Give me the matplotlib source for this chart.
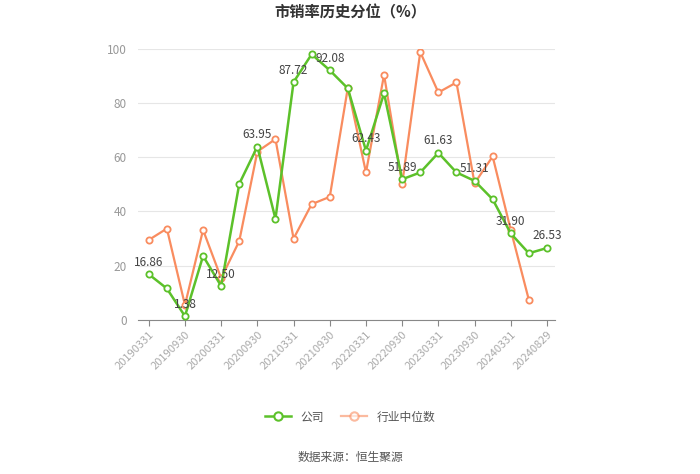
import numpy as np
import matplotlib
matplotlib.use("Agg")
import matplotlib.pyplot as plt
from matplotlib.lines import Line2D

plt.rcParams['font.family'] = ['Noto Sans CJK SC', 'DejaVu Sans']

# 数据
dates = ["20190331", "20190630", "20190930", "20191231", "20200331", "20200630",
         "20200930", "20201231", "20210331", "20210630", "20210930", "20211231",
         "20220331", "20220630", "20220930", "20221231", "20230331", "20230630",
         "20230930", "20231231", "20240331", "20240630", "20240829"]
company = [16.86, 11.6, 1.38, 23.6, 12.50, 50.2, 63.95, 37.3, 87.72, 98.0, 92.08, 85.4,
           62.43, 83.6, 51.89, 54.4, 61.63, 54.4, 51.31, 44.5, 31.90, 24.6, 26.53]
industry = [29.5, 33.7, 5.5, 33.2, 15.4, 29.1, 62.1, 66.7, 30.0, 42.7, 45.4, 85.7,
            54.4, 90.4, 50.2, 98.8, 83.9, 87.6, 50.4, 60.3, 33.2, 7.4]
tick_idx = list(range(0, len(dates), 2))

green = '#5cc12a'
orange = '#f98c5f'

fig = plt.figure(figsize=(7, 4.74), dpi=100)
ax = fig.add_axes([0.197, 0.325, 0.596, 0.572])

x_c = np.arange(len(company))
x_i = np.arange(len(industry))
ax.plot(x_i, industry, color=orange, lw=1.6, marker='o', ms=4.5,
        mfc='white', mec=orange, mew=1.3, zorder=3)
ax.plot(x_c, company, color=green, lw=1.8, marker='o', ms=4.5,
        mfc='white', mec=green, mew=1.3, zorder=4)

# 数据标签
for i in tick_idx:
    ax.annotate(f"{company[i]:.2f}", (i, company[i]), xytext=(0, 4),
                textcoords='offset points', ha='center', va='bottom',
                fontsize=8.5, color='#444444', zorder=5)

ax.set_xlim(-0.6, len(dates) - 1 + 0.45)
ax.set_ylim(0, 100)
ax.set_yticks(range(0, 101, 20))
ax.set_xticks(tick_idx)
ax.set_xticklabels([dates[i] for i in tick_idx], rotation=45, ha='right',
                   rotation_mode='anchor', fontsize=8, color='#aaaaaa')
ax.tick_params(axis='y', length=0, labelsize=8.5, labelcolor='#999999', pad=8)
ax.tick_params(axis='x', length=4, color='#888888', pad=3)
ax.grid(axis='y', color='#e6e6e6', lw=0.8)
ax.set_axisbelow(True)
for s in ['top', 'right', 'left']:
    ax.spines[s].set_visible(False)
ax.spines['bottom'].set_color('#888888')

fig.text(0.5, 0.973, "市销率历史分位（%）", ha='center', va='center',
         fontsize=11, fontweight='bold', color='#333333')

handles = [Line2D([], [], color=green, lw=1.8, marker='o', ms=6, mfc='white', mec=green, mew=1.5),
           Line2D([], [], color=orange, lw=1.6, marker='o', ms=6, mfc='white', mec=orange, mew=1.5, alpha=0.6)]
fig.legend(handles, ['公司', '行业中位数'], loc='center', bbox_to_anchor=(0.5, 0.12),
           ncol=2, frameon=False, fontsize=8.5, handlelength=2.2, columnspacing=1.5,
           labelcolor='#555555')

fig.text(0.5, 0.035, "数据来源：恒生聚源", ha='center', va='center',
         fontsize=8.5, color='#555555')

fig.savefig("out.png", dpi=100)
